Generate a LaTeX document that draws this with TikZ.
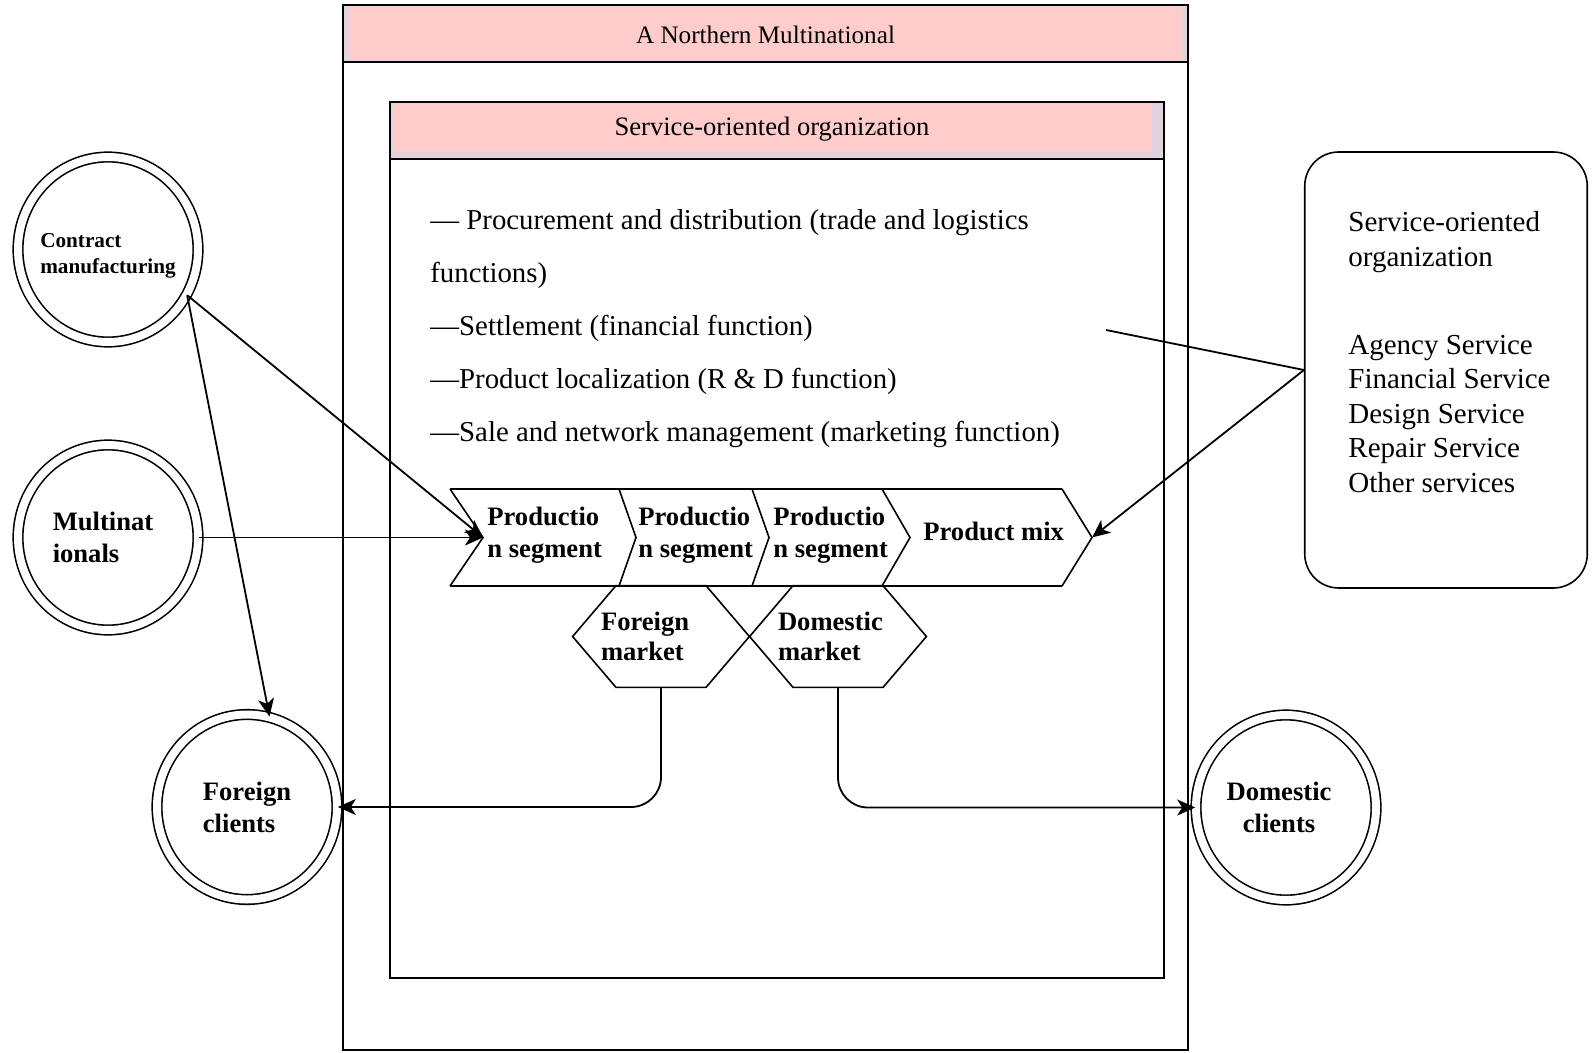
\documentclass[tikz,border=0pt]{standalone}
\usepackage{fontspec}
\setmainfont{Liberation Serif}
\usetikzlibrary{arrows.meta,shapes.geometric}
\definecolor{bandpink}{HTML}{FFCCCC}
\definecolor{bandlilac}{HTML}{E3D3E1}

\begin{document}
\begin{tikzpicture}[x=0.5pt,y=-0.5pt,
  ring/.style={draw, ellipse, double, double distance=4pt, line width=0.8pt, minimum width=90pt, minimum height=92.5pt, inner sep=-6pt, font=\fontsize{13.3}{16}\selectfont\bfseries},
  hexlbl/.style={minimum width=88pt, minimum height=50.5pt, inner sep=0pt, text width=60pt, align=left, font=\fontsize{13.3}{15}\selectfont\bfseries},
  seglbl/.style={anchor=west, inner sep=0pt, align=left, font=\fontsize{13.3}{16}\selectfont\bfseries},
  conn/.style={line width=0.9pt, -{Stealth[length=9pt,width=8pt,inset=2.5pt]}}]

	\useasboundingbox (0,0) rectangle (1594,1053);

	% outer frame
	\fill[bandlilac] (343,5) rectangle (1188,62);
	\fill[bandpink] (349,7) rectangle (1182,60);
	\draw[line width=1pt] (343,5) rectangle (1188,1050);
	\draw[line width=1pt] (343,62) -- (1188,62);
	\node[font=\fontsize{12.6}{15}\selectfont] (mnc) at (765.5,34.5) {A Northern Multinational};

	% inner frame
	\fill[bandlilac] (390,102) rectangle (1164,159);
	\fill[bandpink] (393,102) rectangle (1151,152);
	\draw[line width=1pt] (390,102) rectangle (1164,978);
	\draw[line width=1pt] (390,159) -- (1164,159);
	\node[font=\fontsize{13.3}{16}\selectfont] (soo) at (772,129) {Service-oriented organization};

	\foreach \txt [count=\i] in {{— Procurement and distribution (trade and logistics}, {functions)}, {—Settlement (financial function)}, {—Product localization (R \& D function)}, {—Sale and network management (marketing function)}}
		\node[anchor=base west, inner sep=0pt, font=\fontsize{14.4}{17}\selectfont] (fn\i) at (430,{230+52.75*(\i-1)}) {\txt};

	% chevrons
	\draw[line width=0.8pt] (450,489) -- (1062,489) (450,586) -- (1062,586);
	\foreach \a/\b in {450/483, 619/636, 752/769, 882/910, 1062/1092}
		\draw[line width=0.8pt] (\a,489) -- (\b,537.5) -- (\a,586);
	\node[seglbl] (seg1) at (487,535) {Productio\\n segment};
	\node[seglbl] (seg2) at (638,535) {Productio\\n segment};
	\node[seglbl] (seg3) at (773,535) {Productio\\n segment};
	\node[seglbl] (mix) at (923,531) {Product mix};
	\coordinate (segin) at (483,537.5);
	\coordinate (mixtip) at (1092,537.5);

	% markets
	\node[hexlbl] (fmkt) at (661,636.5) {Foreign\\market};
	\node[hexlbl] (dmkt) at (838,636.5) {Domestic\\market};
	\foreach \h in {fmkt,dmkt}
		\draw[line width=0.8pt] (\h.west) -- ([xshift=-22.5pt]\h.north) -- ([xshift=22.5pt]\h.north) -- (\h.east) -- ([xshift=22.5pt]\h.south) -- ([xshift=-22.5pt]\h.south) -- cycle;

	% outside actors
	\node[ring, align=left, font=\fontsize{10.6}{13}\selectfont\bfseries] (cm) at (108,249.5) {\rule{0pt}{13.5pt}Contract\\manufacturing};
	\node[ring, align=left] (mn) at (108,537.5) {Multinat\hspace*{5pt}\\ionals};
	\node[ring, align=left] (fc) at (247,807) {Foreign\\clients};
	\node[ring, align=center] (dc) at (1286,807.5) {Domestic\hspace*{7pt}\\clients\hspace*{7pt}};

	\node[draw, line width=0.8pt, rounded corners=17pt, minimum width=141.25pt, minimum height=218pt] (srv) at (1446,370) {};
	\node[anchor=north west, inner sep=0pt, align=left, font=\fontsize{14.5}{17.3}\selectfont] (srvtxt) at (1348,211) {Service-oriented\\organization\\[26.7pt]Agency Service\\Financial Service\\Design Service\\Repair Service\\Other services};
	\coordinate (svcend) at (1106,330);

	% connectors
	\draw[conn] (cm.-30) -- (segin);
	\draw[conn] (cm.-30) -- (fc.76);
	\draw[conn] (mn) -- (segin);
	\draw[line width=0.9pt] (svcend) -- (srv.west);
	\draw[conn] (srv.west) -- (mixtip);
	\draw[conn, rounded corners=15pt] (fmkt.south) |- (fc);
	\draw[conn, rounded corners=15pt] (dmkt.south) |- (dc);
\end{tikzpicture}
\end{document}
